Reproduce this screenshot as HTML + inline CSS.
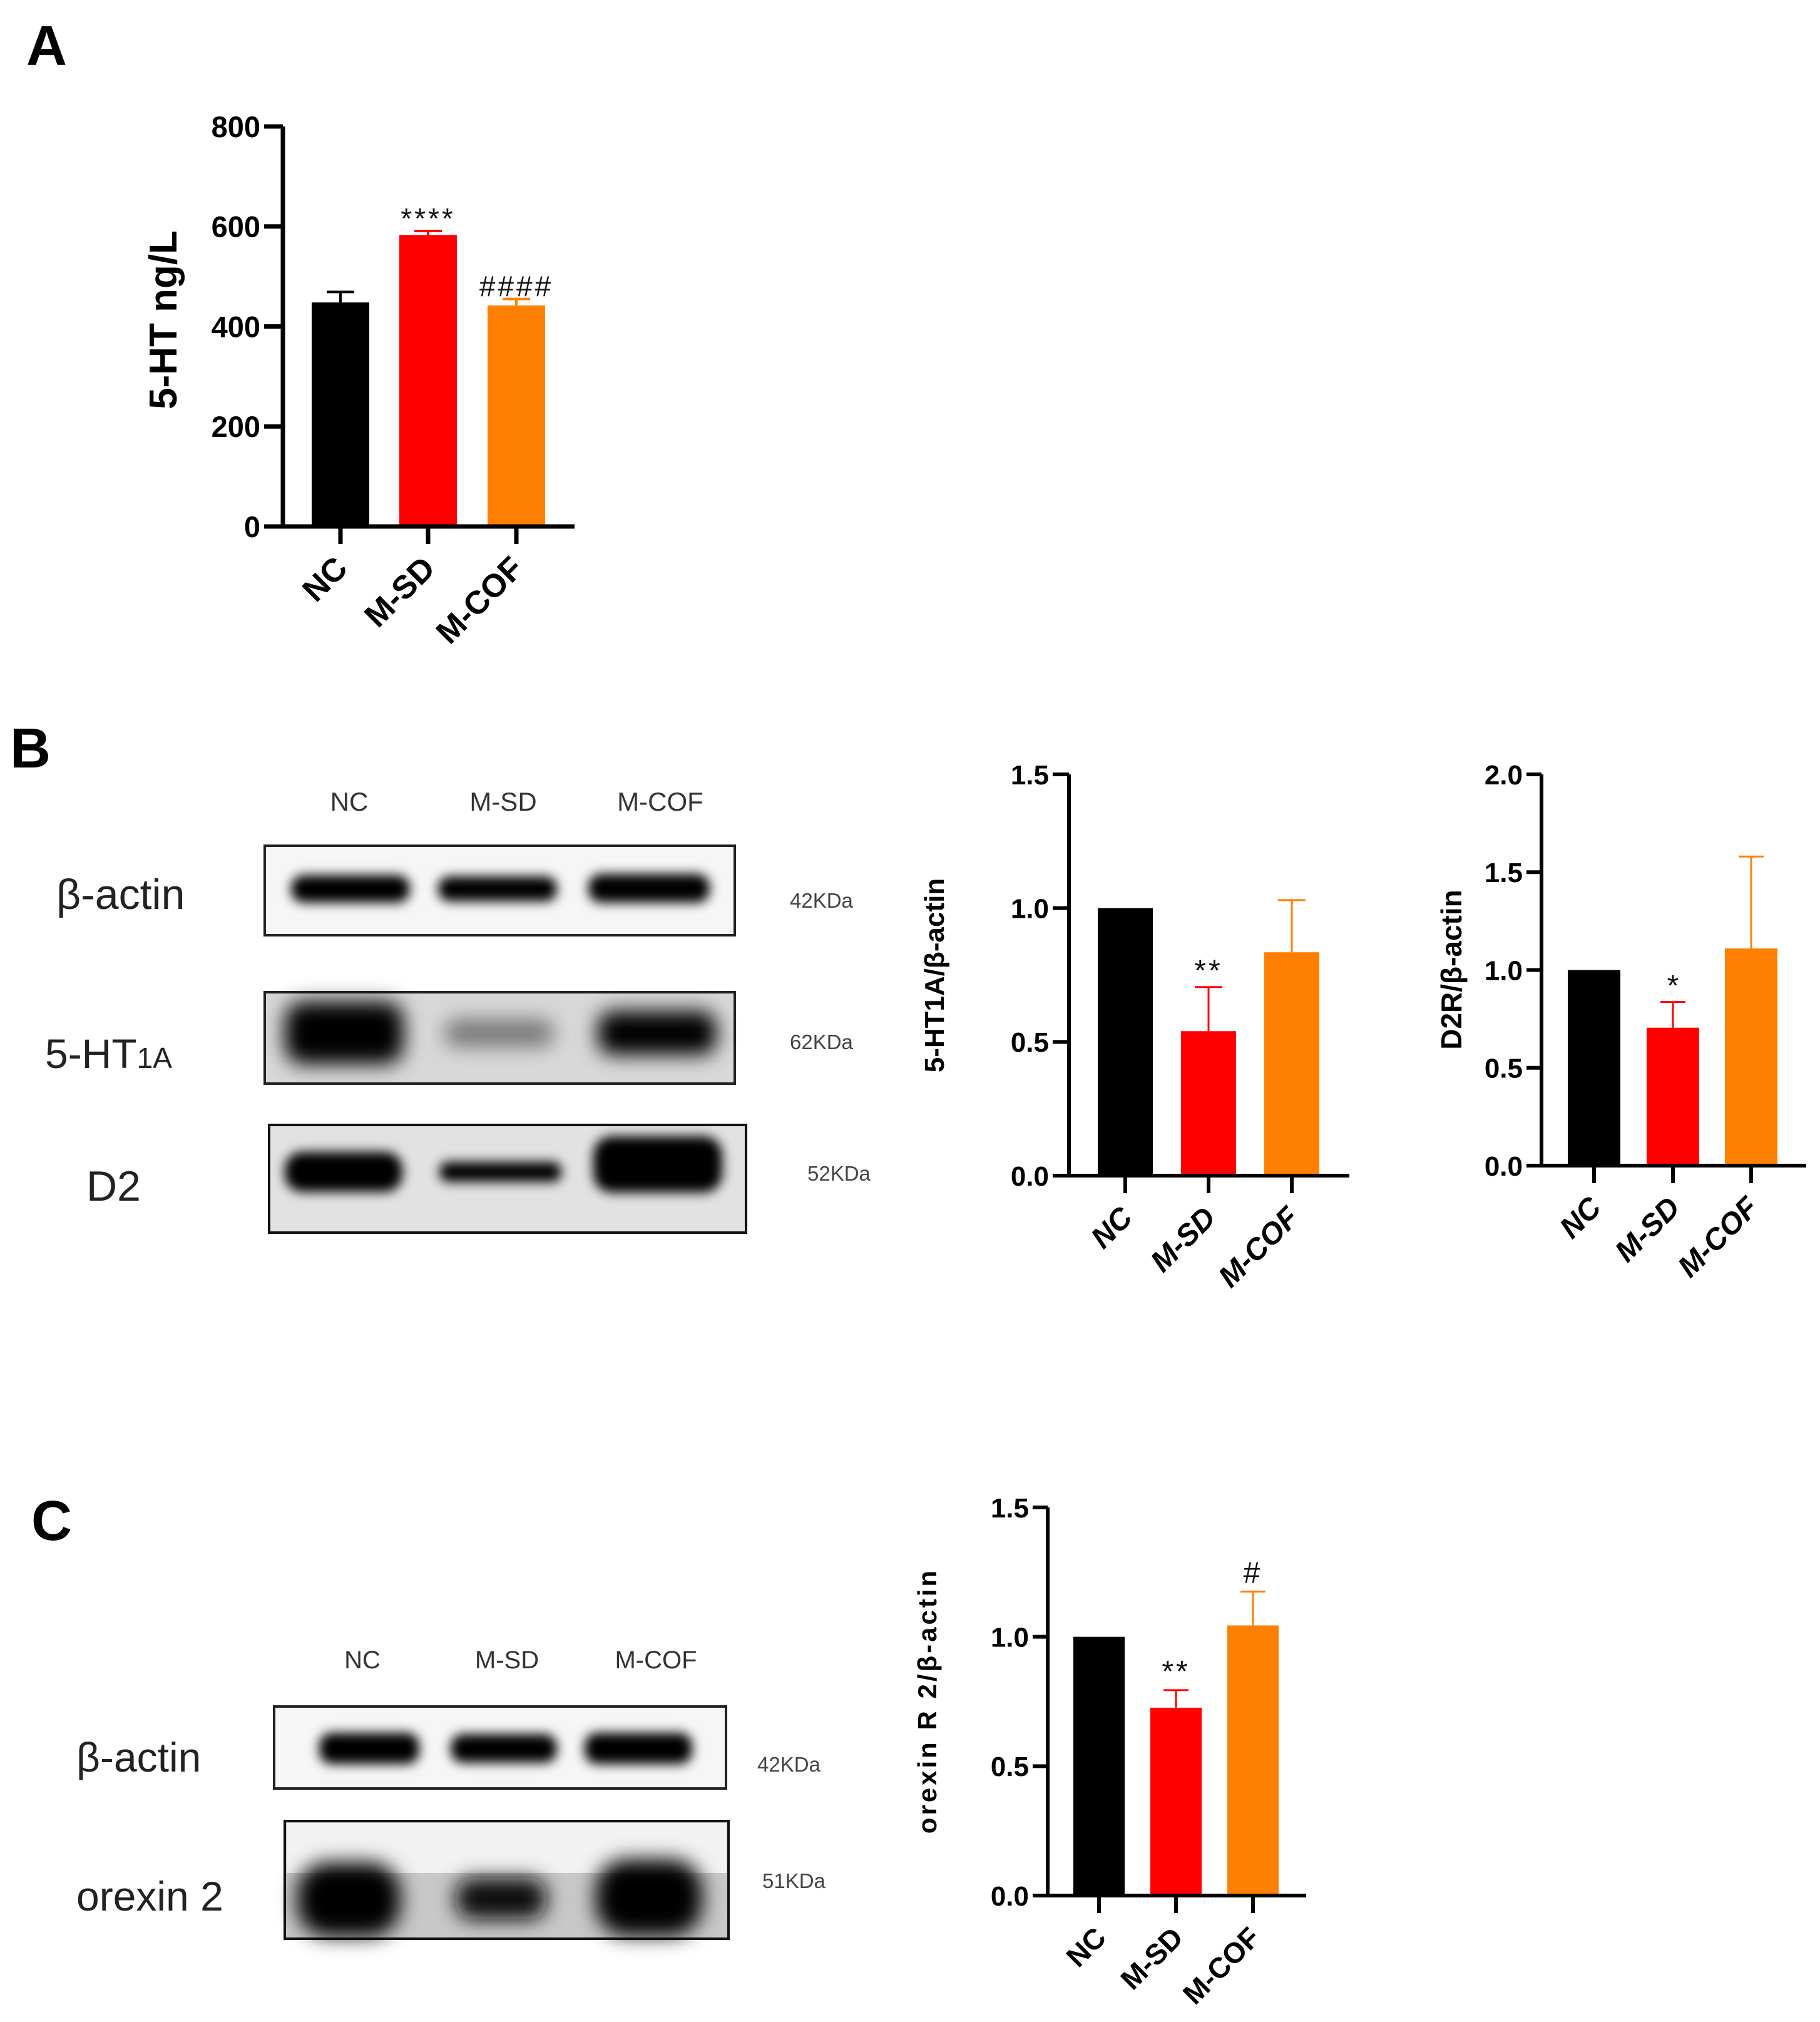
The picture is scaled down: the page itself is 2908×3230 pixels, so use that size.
<!DOCTYPE html>
<html><head><meta charset="utf-8">
<style>
html,body{margin:0;padding:0;background:#fff;}
svg{display:block;}
.bold{font-family:"Liberation Sans",sans-serif;font-weight:bold;}
.blot{font-family:"Liberation Sans Narrow","Liberation Sans",sans-serif;}
</style></head>
<body>
<svg id="fig" width="2908" height="3230" viewBox="0 0 2908 3230" xmlns="http://www.w3.org/2000/svg">
<defs>
<filter id="blur" x="-30%" y="-80%" width="160%" height="260%"><feGaussianBlur stdDeviation="9"/></filter>
<filter id="blur2" x="-30%" y="-80%" width="160%" height="260%"><feGaussianBlur stdDeviation="16"/></filter>
</defs>
<text class="bold" x="42" y="104" font-size="90">A</text>
<text class="bold" x="16" y="1226" font-size="90">B</text>
<text class="bold" x="50" y="2460" font-size="90">C</text>

<g class="blot" font-size="42" fill="#333" text-anchor="middle">
<text x="558" y="1295">NC</text><text x="804" y="1295">M-SD</text><text x="1055" y="1295">M-COF</text>
</g>
<g>
<rect x="423" y="1351" width="751" height="143" fill="#f6f6f6" stroke="#222" stroke-width="4"/>
<g filter="url(#blur)"><rect x="465" y="1398" width="190" height="44" rx="20" fill="#000"/><rect x="700" y="1400" width="190" height="40" rx="18" fill="#000"/><rect x="940" y="1396" width="194" height="46" rx="20" fill="#000"/></g>
</g>
<g>
<rect x="423" y="1585" width="751" height="146" fill="#d8d8d8" stroke="#222" stroke-width="4"/>
<g filter="url(#blur2)"><rect x="455" y="1600" width="190" height="100" rx="30" fill="#000"/><rect x="710" y="1628" width="175" height="44" rx="20" fill="#777"/><rect x="955" y="1615" width="190" height="70" rx="25" fill="#000"/></g>
</g>
<g>
<rect x="430" y="1797" width="762" height="172" fill="#e2e2e2" stroke="#111" stroke-width="4"/>
<g filter="url(#blur)"><rect x="455" y="1840" width="188" height="64" rx="28" fill="#000"/><rect x="702" y="1856" width="195" height="32" rx="14" fill="#000"/><rect x="948" y="1815" width="206" height="90" rx="30" fill="#000"/></g>
</g>
<g class="blot" fill="#222">
<text x="90" y="1452" font-size="68">β-actin</text>
<text x="72" y="1706" font-size="66">5-HT<tspan font-size="46">1A</tspan></text>
<text x="138" y="1918" font-size="68">D2</text>
<text x="1262" y="1450" font-size="33" fill="#444">42KDa</text>
<text x="1262" y="1676" font-size="33" fill="#444">62KDa</text>
<text x="1290" y="1886" font-size="33" fill="#444">52KDa</text>
</g>

<g class="blot" font-size="40" fill="#333" text-anchor="middle">
<text x="579" y="2665">NC</text><text x="810" y="2665">M-SD</text><text x="1048" y="2665">M-COF</text>
</g>
<g>
<rect x="438" y="2726" width="722" height="131" fill="#f6f6f6" stroke="#222" stroke-width="4"/>
<g filter="url(#blur)"><rect x="510" y="2768" width="160" height="50" rx="20" fill="#000"/><rect x="720" y="2770" width="170" height="46" rx="20" fill="#000"/><rect x="934" y="2768" width="172" height="50" rx="20" fill="#000"/></g>
</g>
<g>
<rect x="455" y="2909" width="709" height="188" fill="#c8c8c8" stroke="#111" stroke-width="4"/>
<rect x="458" y="2912" width="703" height="80" fill="#f2f2f2"/>
<g filter="url(#blur2)"><rect x="475" y="2975" width="165" height="118" rx="50" fill="#000"/><rect x="728" y="3000" width="145" height="66" rx="28" fill="#111"/><rect x="952" y="2970" width="170" height="122" rx="50" fill="#000"/></g>
</g>
<g class="blot" fill="#222">
<text x="122" y="2830" font-size="66">β-actin</text>
<text x="122" y="3052" font-size="66">orexin 2</text>
<text x="1210" y="2830" font-size="33" fill="#444">42KDa</text>
<text x="1218" y="3016" font-size="33" fill="#444">51KDa</text>
</g>
<g id="charts"></g>
</svg>
<script>
const categories = ["NC", "M-SD", "M-COF"];
const colors = ["#000000", "#ff0000", "#ff8000"];
// Panel A: 5-HT ng/L
const aValues = [448, 583, 442];
const aErrors = [21, 8, 13];
const aTicks = [0, 200, 400, 600, 800];
const aTickLabels = ["0", "200", "400", "600", "800"];
const aSig = ["", "****", "####"];
// Panel B1: 5-HT1A/β-actin
const b1Values = [1.0, 0.54, 0.835];
const b1Errors = [0, 0.165, 0.195];
const b1Ticks = [0, 0.5, 1.0, 1.5];
const b1TickLabels = ["0.0", "0.5", "1.0", "1.5"];
const b1Sig = ["", "**", ""];
// Panel B2: D2R/β-actin
const b2Values = [1.0, 0.705, 1.11];
const b2Errors = [0, 0.132, 0.47];
const b2Ticks = [0, 0.5, 1.0, 1.5, 2.0];
const b2TickLabels = ["0.0", "0.5", "1.0", "1.5", "2.0"];
const b2Sig = ["", "*", ""];
// Panel C: orexin R 2/β-actin
const cValues = [1.0, 0.726, 1.044];
const cErrors = [0, 0.068, 0.131];
const cTicks = [0, 0.5, 1.0, 1.5];
const cTickLabels = ["0.0", "0.5", "1.0", "1.5"];
const cSig = ["", "**", "#"];

const NS = "http://www.w3.org/2000/svg";
const root = document.getElementById("charts");
function mk(tag, attrs, parent, txt) {
  const e = document.createElementNS(NS, tag);
  for (const k in attrs) e.setAttribute(k, attrs[k]);
  if (txt !== undefined) e.textContent = txt;
  parent.appendChild(e);
  return e;
}
function chart(cfg, values, errors, ticks, tickLabels, sig) {
  const g = mk("g", {}, root);
  
  
  const yMax = ticks[ticks.length - 1];
  const y = v => cfg.y0 - (v / yMax) * (cfg.y0 - cfg.y1);
  const x = i => cfg.cx[i];
  values.forEach((v, i) => {
    const r = mk("rect", {x: x(i) - cfg.bw / 2, y: y(v), width: cfg.bw, height: cfg.y0 - y(v), fill: colors[i]}, g);
    
    
    if (errors[i] > 0) {
      const eb = mk("path", {d: `M${x(i)} ${y(v)} V${y(v + errors[i])} M${x(i) - cfg.cap} ${y(v + errors[i])} H${x(i) + cfg.cap}`, stroke: colors[i], "stroke-width": cfg.ew, fill: "none"}, g);
      
      
    }
    if (sig[i]) {
      const s = mk("text", {x: x(i), y: y(v + errors[i]) - cfg.sigGap, "text-anchor": "middle", "font-family": "Liberation Sans, sans-serif", "font-size": cfg.sigSize, fill: "#111", "letter-spacing": cfg.sigLs || 0}, g, sig[i]);
      
      
    }
  });
  const ax = mk("path", {d: `M${cfg.ax} ${cfg.y1} V${cfg.y0} M${cfg.xl} ${cfg.y0} H${cfg.xr}`, stroke: "#000", "stroke-width": cfg.lw, fill: "none"}, g);
  
  
  ticks.forEach((t, i) => {
    const tk = mk("path", {d: `M${cfg.ax - cfg.tl} ${y(t)} H${cfg.ax}`, stroke: "#000", "stroke-width": cfg.lw}, g);
    
    
    const tl = mk("text", {x: cfg.ax - cfg.tl - 6, y: y(t) + cfg.tfs * 0.36, "text-anchor": "end", class: "bold", "font-size": cfg.tfs}, g, tickLabels[i]);
    
    
  });
  categories.forEach((c, i) => {
    const tk = mk("path", {d: `M${x(i)} ${cfg.y0} V${cfg.y0 + cfg.xtl}`, stroke: "#000", "stroke-width": cfg.lw}, g);
    
    
    const lx = x(i) + 14, ly = cfg.y0 + cfg.xtl + 42;
    const tl = mk("text", {x: lx, y: ly, "text-anchor": "end", class: "bold", "font-size": cfg.cfs, "font-style": cfg.italic ? "italic" : "normal", transform: `rotate(-45 ${lx} ${ly})`}, g, c);
    
    
  });
  const tt = mk("text", {x: cfg.tx, y: cfg.ty, "text-anchor": "middle", class: "bold", "font-size": cfg.tts, transform: `rotate(-90 ${cfg.tx} ${cfg.ty})`, "letter-spacing": cfg.ls || 0}, g, cfg.title);
  
  
}
chart({name: "chart-5ht", ax: 452, y0: 841, y1: 202, xl: 423, xr: 918, cx: [544, 684, 825], bw: 92, cap: 22, ew: 4, lw: 7, tl: 30, xtl: 28, tfs: 47, cfs: 52, italic: false, sigSize: 46, sigGap: 4, sigLs: 4, tx: 282, ty: 511, tts: 62, title: "5-HT ng/L"}, aValues, aErrors, aTicks, aTickLabels, aSig);
chart({name: "chart-5ht1a", ax: 1708, y0: 1878, y1: 1237, xl: 1682, xr: 2156, cx: [1798, 1931, 2064], bw: 88, cap: 22, ew: 3, lw: 6, tl: 26, xtl: 28, tfs: 44, cfs: 48, italic: true, sigSize: 48, sigGap: 10, sigLs: 4, tx: 1508, ty: 1558, tts: 44, title: "5-HT1A/β-actin"}, b1Values, b1Errors, b1Ticks, b1TickLabels, b1Sig);
chart({name: "chart-d2r", ax: 2463, y0: 1862, y1: 1237, xl: 2440, xr: 2886, cx: [2547, 2673, 2798], bw: 84, cap: 20, ew: 3, lw: 6, tl: 24, xtl: 28, tfs: 44, cfs: 48, italic: true, sigSize: 48, sigGap: 10, tx: 2335, ty: 1549, tts: 46, title: "D2R/β-actin"}, b2Values, b2Errors, b2Ticks, b2TickLabels, b2Sig);
chart({name: "chart-orexin", ax: 1674, y0: 3028, y1: 2408, xl: 1650, xr: 2087, cx: [1756, 1879, 2002], bw: 82, cap: 20, ew: 3, lw: 6, tl: 24, xtl: 28, tfs: 44, cfs: 46, italic: false, sigSize: 48, sigGap: 14, sigLs: 4, tx: 1496, ty: 2717, tts: 42, ls: 4, title: "orexin R 2/β-actin"}, cValues, cErrors, cTicks, cTickLabels, cSig);
</script>
</body></html>
